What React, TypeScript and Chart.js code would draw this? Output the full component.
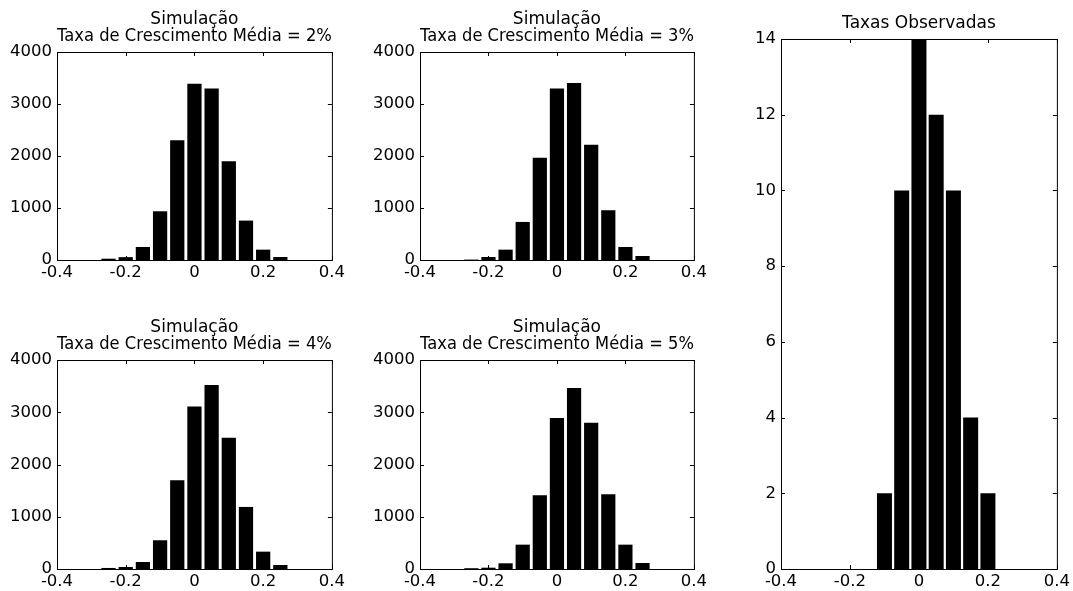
import React, { useEffect, useRef } from 'react';
import { Chart, registerables } from 'chart.js';

Chart.register(...registerables);

// ---------------- data ----------------
const simBins = [-0.25, -0.2, -0.15, -0.1, -0.05, 0, 0.05, 0.1, 0.15, 0.2, 0.25];
const simCounts2 = [25, 55, 250, 937, 2305, 3390, 3300, 1900, 758, 199, 58];
const simCounts3 = [8, 58, 199, 732, 1965, 3300, 3403, 2215, 957, 250, 77];
const simCounts4 = [20, 38, 134, 550, 1700, 3112, 3520, 2511, 1188, 332, 77];
const simCounts5 = [15, 25, 109, 466, 1412, 2888, 3463, 2799, 1431, 466, 115];

const obsBins = [-0.1, -0.05, 0, 0.05, 0.1, 0.15, 0.2];
const obsCounts = [2, 10, 14, 12, 10, 4, 2];

const xTickValues = [-0.4, -0.2, 0, 0.2, 0.4];
const xTickLabels = ['-0.4', '-0.2', '0', '0.2', '0.4'];
const simYTickValues = [0, 1000, 2000, 3000, 4000];
const simYTickLabels = ['0', '1000', '2000', '3000', '4000'];
const obsYTickValues = [0, 2, 4, 6, 8, 10, 12, 14];
const obsYTickLabels = ['0', '2', '4', '6', '8', '10', '12', '14'];

const simTitle2 = ['Simulação', 'Taxa de Crescimento Média = 2%'];
const simTitle3 = ['Simulação', 'Taxa de Crescimento Média = 3%'];
const simTitle4 = ['Simulação', 'Taxa de Crescimento Média = 4%'];
const simTitle5 = ['Simulação', 'Taxa de Crescimento Média = 5%'];
const obsTitle = 'Taxas Observadas';

// ---------------- styling ----------------
const FONT = '"DejaVu Sans", Verdana, sans-serif';
const TICK_FONT = { family: FONT, size: 16.5, weight: 'normal' as const };
const TITLE_FONT = { family: FONT, size: 17, weight: 'normal' as const, lineHeight: '17px' };

const boxTicks = {
  id: 'boxTicks',
  afterDraw(chart: any) {
    const { ctx, chartArea: a, scales } = chart;
    const xs = scales.x;
    const ys = scales.y;
    const L = 4;
    ctx.save();
    ctx.strokeStyle = '#000';
    ctx.lineWidth = 1;
    ctx.beginPath();
    xs.ticks.forEach((t: any) => {
      const px = Math.round(xs.getPixelForValue(t.value)) + 0.5;
      ctx.moveTo(px, a.bottom);
      ctx.lineTo(px, a.bottom - L);
      ctx.moveTo(px, a.top);
      ctx.lineTo(px, a.top + L);
    });
    ys.ticks.forEach((t: any) => {
      const py = Math.round(ys.getPixelForValue(t.value)) + 0.5;
      ctx.moveTo(a.left, py);
      ctx.lineTo(a.left + L, py);
      ctx.moveTo(a.right, py);
      ctx.lineTo(a.right - L, py);
    });
    ctx.stroke();
    ctx.strokeRect(a.left + 0.5, a.top + 0.5, a.right - a.left, a.bottom - a.top);
    ctx.restore();
  },
};

type PanelSpec = {
  bins: number[];
  counts: number[];
  title: string | string[];
  yMax: number;
  yTicks: number[];
  yLabels: string[];
  barPct: number;
  // layout
  left: number;
  top: number;
  width: number;
  height: number;
  yAxisW: number;
};

function buildConfig(p: PanelSpec): any {
  return {
    type: 'bar',
    data: {
      datasets: [
        {
          data: p.bins.map((b, i) => ({ x: b, y: p.counts[i] })),
          backgroundColor: '#000',
          borderWidth: 0,
          barPercentage: p.barPct,
          categoryPercentage: 1,
        },
      ],
    },
    options: {
      responsive: false,
      animation: false,
      events: [],
      layout: { padding: { left: 0, right: 15, top: 0, bottom: 0 } },
      plugins: {
        legend: { display: false },
        tooltip: { enabled: false },
        title: {
          display: true,
          text: p.title,
          color: '#000',
          font: TITLE_FONT,
          padding: { top: 5.5, bottom: 6.5 },
          fullSize: false,
        },
      },
      scales: {
        x: {
          type: 'linear',
          min: -0.4,
          max: 0.4,
          offset: false,
          grid: { display: false, drawTicks: false },
          border: { display: false },
          afterBuildTicks: (s: any) => {
            s.ticks = xTickValues.map((v) => ({ value: v }));
          },
          afterFit: (s: any) => {
            s.height = 22;
          },
          ticks: {
            padding: 3,
            color: '#000',
            font: TICK_FONT,
            maxRotation: 0,
            minRotation: 0,
            autoSkip: false,
            callback: (_v: any, i: number) => xTickLabels[i],
          },
        },
        y: {
          type: 'linear',
          min: 0,
          max: p.yMax,
          grid: { display: false, drawTicks: false },
          border: { display: false },
          afterBuildTicks: (s: any) => {
            s.ticks = p.yTicks.map((v) => ({ value: v }));
          },
          afterFit: (s: any) => {
            s.width = p.yAxisW;
          },
          ticks: {
            padding: 5,
            color: '#000',
            font: TICK_FONT,
            autoSkip: false,
            callback: (_v: any, i: number) => p.yLabels[i],
          },
        },
      },
    },
    plugins: [boxTicks],
  };
}

function Panel({ spec }: { spec: PanelSpec }) {
  const ref = useRef<HTMLCanvasElement | null>(null);
  useEffect(() => {
    if (!ref.current) return;
    const chart = new Chart(ref.current, buildConfig(spec));
    return () => chart.destroy();
  }, [spec]);
  return (
    <canvas
      ref={ref}
      width={spec.width}
      height={spec.height}
      style={{
        position: 'absolute',
        left: spec.left,
        top: spec.top,
        width: spec.width,
        height: spec.height,
      }}
    />
  );
}

const panels: PanelSpec[] = [
  {
    bins: simBins, counts: simCounts2, title: simTitle2, yMax: 4000,
    yTicks: simYTickValues, yLabels: simYTickLabels, barPct: 0.83,
    left: 0, top: 6, width: 348, height: 276, yAxisW: 57,
  },
  {
    bins: simBins, counts: simCounts3, title: simTitle3, yMax: 4000,
    yTicks: simYTickValues, yLabels: simYTickLabels, barPct: 0.83,
    left: 360, top: 6, width: 350, height: 276, yAxisW: 60,
  },
  {
    bins: simBins, counts: simCounts4, title: simTitle4, yMax: 4000,
    yTicks: simYTickValues, yLabels: simYTickLabels, barPct: 0.83,
    left: 0, top: 314, width: 348, height: 277, yAxisW: 57,
  },
  {
    bins: simBins, counts: simCounts5, title: simTitle5, yMax: 4000,
    yTicks: simYTickValues, yLabels: simYTickLabels, barPct: 0.83,
    left: 360, top: 314, width: 350, height: 277, yAxisW: 60,
  },
  {
    bins: obsBins, counts: obsCounts, title: obsTitle, yMax: 14,
    yTicks: obsYTickValues, yLabels: obsYTickLabels, barPct: 0.87,
    left: 720, top: 10, width: 353, height: 581, yAxisW: 61,
  },
];

export default function App() {
  return (
    <div
      style={{
        position: 'absolute',
        left: 0,
        top: 0,
        width: 1073,
        height: 591,
        overflow: 'hidden',
        background: '#fff',
      }}
    >
      {panels.map((p, i) => (
        <Panel key={i} spec={p} />
      ))}
    </div>
  );
}
